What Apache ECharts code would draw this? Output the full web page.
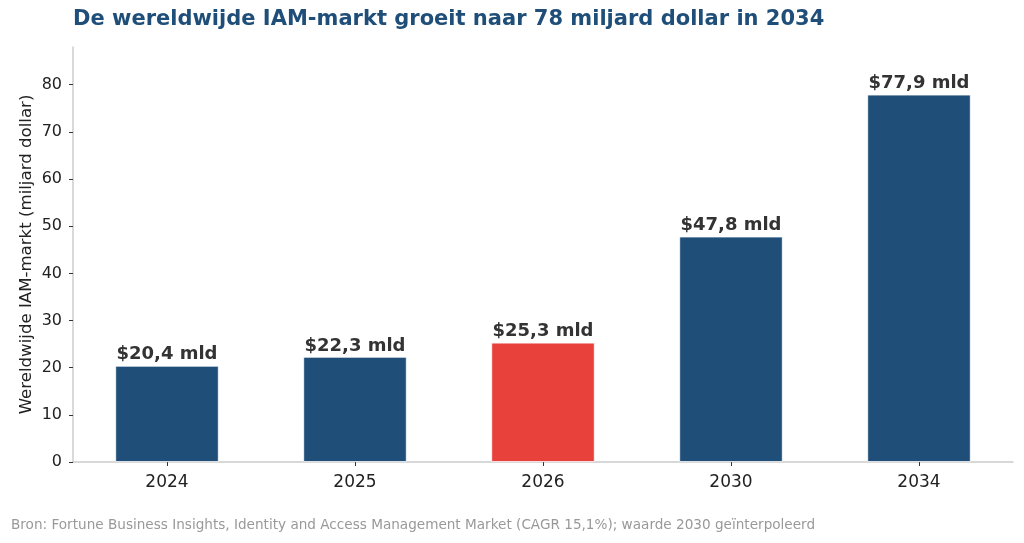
<!DOCTYPE html>
<html>
<head>
<meta charset="utf-8">
<script src="https://cdn.jsdelivr.net/npm/echarts@6/dist/echarts.min.js"></script>
<style>
html,body{margin:0;padding:0;background:#fff;font-family:'DejaVu Sans';}
#chart{width:1024px;height:543px;}
</style>
</head>
<body>
<div id="chart"></div>
<script>
var categories = ['2024', '2025', '2026', '2030', '2034'];
var values = [20.4, 22.3, 25.3, 47.8, 77.9];
var valueLabels = ['$20,4 mld', '$22,3 mld', '$25,3 mld', '$47,8 mld', '$77,9 mld'];
var highlightCategory = '2026';
var yTicks = [0, 10, 20, 30, 40, 50, 60, 70, 80];

var NAVY = '#1f4e79';
var RED = '#e8413c';
var FONT = "'DejaVu Sans', sans-serif";

var chart = echarts.init(document.getElementById('chart'), null, {renderer: 'canvas'});
chart.setOption({
  animation: false,
  backgroundColor: '#ffffff',
  textStyle: {fontFamily: FONT},
  title: {
    text: 'De wereldwijde IAM-markt groeit naar 78 miljard dollar in 2034',
    left: 68, top: 4,
    textStyle: {fontFamily: FONT, fontSize: 21, fontWeight: 'bold', color: NAVY}
  },
  graphic: [{
    type: 'text', left: 11, top: 518,
    style: {
      text: 'Bron: Fortune Business Insights, Identity and Access Management Market (CAGR 15,1%); waarde 2030 geïnterpoleerd',
      fontFamily: FONT, fontSize: 13.6, fill: '#999999'
    }
  }],
  grid: {left: 73, right: 11, top: 47, bottom: 81, containLabel: false},
  xAxis: {
    type: 'category',
    data: categories,
    boundaryGap: true,
    axisLine: {show: true, lineStyle: {color: '#cccccc', width: 1.5}},
    axisTick: {show: true, alignWithLabel: true, length: 4, lineStyle: {color: '#333333', width: 1}},
    axisLabel: {fontFamily: FONT, fontSize: 17, color: '#222222', margin: 12}
  },
  yAxis: {
    type: 'value',
    min: 0, max: 88, interval: 10,
    name: 'Wereldwijde IAM-markt (miljard dollar)',
    nameLocation: 'middle',
    nameGap: 46,
    nameRotate: 90,
    nameMoveOverlap: false,
    nameTextStyle: {fontFamily: FONT, fontSize: 16.6, color: '#222222', verticalAlign: 'middle', align: 'center'},
    splitLine: {show: false},
    axisLine: {show: true, lineStyle: {color: '#cccccc', width: 1.5}},
    axisTick: {show: true, length: 4, lineStyle: {color: '#333333', width: 1}, customValues: yTicks},
    axisLabel: {fontFamily: FONT, fontSize: 16, color: '#222222', margin: 11, customValues: yTicks}
  },
  series: [{
    type: 'bar',
    barWidth: '55%',
    data: values.map(function (v, i) {
      return {
        value: v,
        itemStyle: {color: categories[i] === highlightCategory ? RED : NAVY, borderColor: '#ffffff', borderWidth: 0.8}
      };
    }),
    label: {
      show: true, position: 'top', distance: 2,
      formatter: function (p) { return valueLabels[p.dataIndex]; },
      fontFamily: FONT, fontSize: 18, fontWeight: 'bold', color: '#333333'
    }
  }]
});
</script>
</body>
</html>
